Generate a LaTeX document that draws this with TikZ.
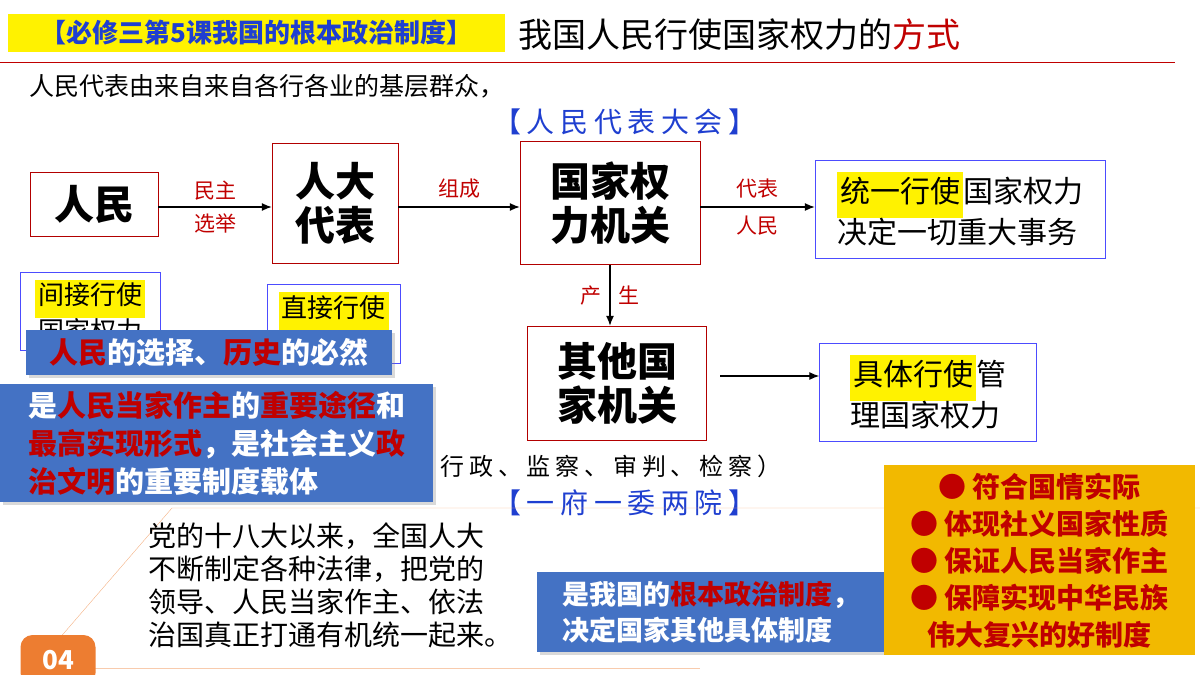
\documentclass[tikz,border=0pt]{standalone}
\usepackage{fontspec}
\setmainfont{Noto Sans CJK SC}
\usetikzlibrary{arrows.meta,positioning,shadows}
\definecolor{bannerblue}{HTML}{4472C4}
\definecolor{titleblue}{HTML}{1F3FD0}
\definecolor{darkred}{HTML}{C00000}
\definecolor{gold}{HTML}{F2B900}
\definecolor{badge}{HTML}{ED7D31}
\newcommand{\hl}[1]{\colorbox{yellow}{\strut #1}}
\newcommand{\rd}[1]{\textcolor{darkred}{#1}}
\tikzset{
	thick,
	>=latex,
	redbox/.style = {draw=red!70!black, thin, fill=white, font=\fontsize{40}{44}\selectfont\bfseries, align=center, inner sep=2pt},
	bluebox/.style = {draw=blue!70, thin, fill=white, font=\fontsize{30}{40}\selectfont, align=left, inner sep=4pt},
	smallbox/.style = {draw=blue!70, thin, fill=white, font=\fontsize{26}{32}\selectfont, align=center, inner sep=2pt, anchor=north west},
	banner/.style = {fill=bannerblue, text=white, font=\fontsize{29}{38}\selectfont\bfseries, align=left, anchor=north west, drop shadow={opacity=0.3}},
	lbl/.style = {text=darkred, font=\fontsize{21}{22}\selectfont},
	flow/.style = {-{Latex[length=10pt,width=8pt]}, line width=1.2pt},
	spaced/.style = {font=\fontsize{#1}{#1}\selectfont\addfontfeature{LetterSpace=20}}
}
\begin{document}
\begin{tikzpicture}[x=1pt,y=-1pt]
        \useasboundingbox (0,0) rectangle (1200,675);
        % header
        \node[fill=yellow, text=titleblue, font=\fontsize{26}{26}\selectfont\itshape\bfseries, minimum width=497pt, minimum height=38pt, anchor=west, inner sep=0pt] (head) at (8,33) {【必修三第5课我国的根本政治制度】};
        \node[font=\fontsize{34}{34}\selectfont, anchor=west] (title) at (515,35) {我国人民行使国家权力的\rd{方式}};
        \draw[darkred, thick] (0,62) -- (1175,62);
        \node[font=\fontsize{25}{26}\selectfont, anchor=west] (intro) at (26,86) {人民代表由来自来自各行各业的基层群众，};
        \node[text=titleblue, spaced=28] (npc) at (625,122) {【人民代表大会】};
        % main flow
        \node[redbox, minimum width=128pt, minimum height=64pt] (people) at (94,204) {人民};
        \node[redbox, minimum width=126pt, minimum height=120pt] (deputy) at (335,203) {人大\\代表};
        \node[redbox, minimum width=180pt, minimum height=123pt] (organ) at (610,203) {国家权\\力机关};
        \node[bluebox, minimum width=290pt, minimum height=98pt] (unified) at (960,209) {\hl{统一行使}国家权力\\决定一切重大事务};
        \node[redbox, minimum width=179pt, minimum height=114pt] (other) at (617,383) {其他国\\家机关};
        \node[bluebox, minimum width=217pt, minimum height=98pt] (concrete) at (928,392) {\hl{具体行使}管\\理国家权力};
        \draw[flow] (people.east |- 0,207) -- node[lbl, above=3pt] {民主} node[lbl, below=3pt] {选举} (deputy.west |- 0,207);
        \draw[flow] (deputy.east |- 0,207) -- node[lbl, above=5pt] {组成} (organ.west |- 0,207);
        \draw[flow] (organ.east |- 0,207) -- node[lbl, above=5pt] {代表} node[lbl, below=5pt] {人民} (unified.west |- 0,207);
        \draw[flow] (organ.south) -- node[lbl, left=5pt] {产} node[lbl, right=5pt] {生} (organ.south |- other.north);
        \draw[flow] (720,376) -- (concrete.west |- 0,376);
        % covered boxes and banners
        \node[smallbox, minimum width=140pt, minimum height=78pt] (indirect) at (20,272) {\hl{间接行使}\\国家权力};
        \node[smallbox, minimum width=133pt, minimum height=79pt] (direct) at (267,284) {\hl{直接行使}\\国家权力};
        \node[banner, minimum width=366pt, minimum height=45pt] (choice) at (26,330) {\rd{人民}的选择、\rd{历史}的必然};
        \node[banner, minimum width=433pt, minimum height=118pt, inner sep=6pt] (path) at (0,384) {是\rd{人民当家作主}的\rd{重要途径}和\\\rd{最高实现形式}，是社会主义\rd{政}\\\rd{治文明}的重要制度载体};
        \node[spaced=24, anchor=west] (branches) at (437,466) {行政、监察、审判、检察）};
        \node[text=titleblue, spaced=28] (gov) at (625,503) {【一府一委两院】};
        % bottom frame
        \draw[badge!60, thin] (1200,508) -- (172,508) -- (58,640);
        \draw[badge!40, thin] (95,668) -- (700,668);
        \node[fill=badge, text=white, font=\fontsize{26}{26}\selectfont\bfseries, minimum width=75pt, minimum height=50pt, rounded corners=12pt] (num) at (58,660) {04};
        \node[font=\fontsize{28}{33}\selectfont, align=left, anchor=north west, inner sep=0pt] (para) at (148,522) {党的十八大以来，全国人大\\不断制定各种法律，把党的\\领导、人民当家作主、依法\\治国真正打通有机统一起来。};
        \node[banner, minimum width=348pt, minimum height=80pt, font=\fontsize{27}{36}\selectfont\bfseries] (basic) at (537,572) {是我国的\rd{根本政治制度}，\\决定国家其他具体制度};
        \node[fill=gold, text=darkred, font=\fontsize{28}{37}\selectfont\bfseries, align=center, minimum width=311pt, minimum height=190pt, anchor=north west] (merits) at (884,465) {● 符合国情实际\\● 体现社义国家性质\\● 保证人民当家作主\\● 保障实现中华民族\\伟大复兴的好制度};
      \end{tikzpicture}
\end{document}
